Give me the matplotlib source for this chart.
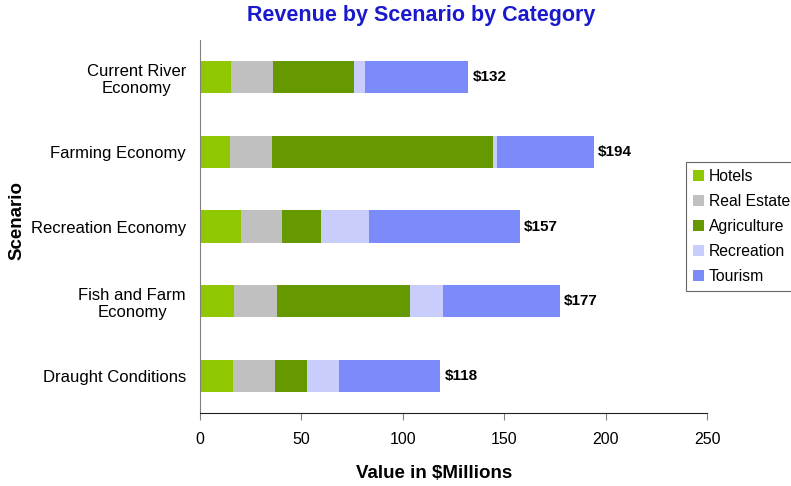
import matplotlib
matplotlib.use('Agg')
import matplotlib.pyplot as plt
import numpy as np

plt.rcParams['font.family'] = ['Liberation Sans', 'DejaVu Sans']

scenarios = ['Current River\nEconomy', 'Farming Economy', 'Recreation Economy',
             'Fish and Farm\nEconomy', 'Draught Conditions']
categories = ['Hotels', 'Real Estate', 'Agriculture', 'Recreation', 'Tourism']
hotels = [15.3, 14.8, 20.2, 16.8, 16.3]
real_estate = [20.7, 20.7, 20.3, 21.2, 20.7]
agriculture = [40.0, 109.0, 19.2, 65.6, 15.8]
recreation = [5.4, 2.0, 23.7, 16.3, 15.8]
tourism = [50.8, 47.5, 74.0, 57.2, 49.8]
totals = [132, 194, 157, 177, 118]

colors = ['#8fc800', '#c0c0c0', '#669900', '#c8cdfb', '#7b8bfa']

fig = plt.figure(figsize=(7.91, 4.86), dpi=100)
ax = fig.add_axes([200 / 791, 73 / 486, 507.5 / 791, 373 / 486])

y = np.arange(len(scenarios))
left = np.zeros(len(scenarios))
for name, vals, c in zip(categories, [hotels, real_estate, agriculture, recreation, tourism], colors):
    ax.barh(y, vals, left=left, height=0.43, color=c, label=name)
    left += np.array(vals)

for yi, tot, end in zip(y, totals, left):
    ax.text(end + 2, yi, f'${tot}', va='center', ha='left', fontsize=11, fontweight='bold')

ax.set_ylim(len(scenarios) - 0.5, -0.5)
ax.set_xlim(0, 250)
ax.set_xticks([0, 50, 100, 150, 200, 250])
ax.set_yticks(y)
ax.set_yticklabels(scenarios, fontsize=12, multialignment='center')
ax.tick_params(axis='y', length=0, pad=10)
ax.tick_params(axis='x', length=5, color='#808080', labelsize=11.5, pad=9)

for s in ['top', 'right']:
    ax.spines[s].set_visible(False)
ax.spines['left'].set_color('#808080')
ax.spines['bottom'].set_color('#202020')

fig.text(421 / 791, 1 - 16 / 486, 'Revenue by Scenario by Category', ha='center', va='center',
         fontsize=15.5, fontweight='bold', color='#1a1acd')
fig.text(434 / 791, 1 - 473 / 486, 'Value in $Millions', ha='center', va='center',
         fontsize=13.5, fontweight='bold')
fig.text(17 / 791, 1 - 220 / 486, 'Scenario', ha='center', va='center', rotation=90,
         fontsize=13.5, fontweight='bold')

leg = fig.legend(loc='upper left', bbox_to_anchor=(686 / 791, 1 - 162 / 486),
                 fontsize=11.3, frameon=True, fancybox=False, edgecolor='#404040',
                 handlelength=0.7, handleheight=0.7, handletextpad=0.3,
                 labelspacing=0.64, borderpad=0.45, borderaxespad=0)
leg.get_frame().set_linewidth(0.8)

fig.savefig('out.png', dpi=100)
